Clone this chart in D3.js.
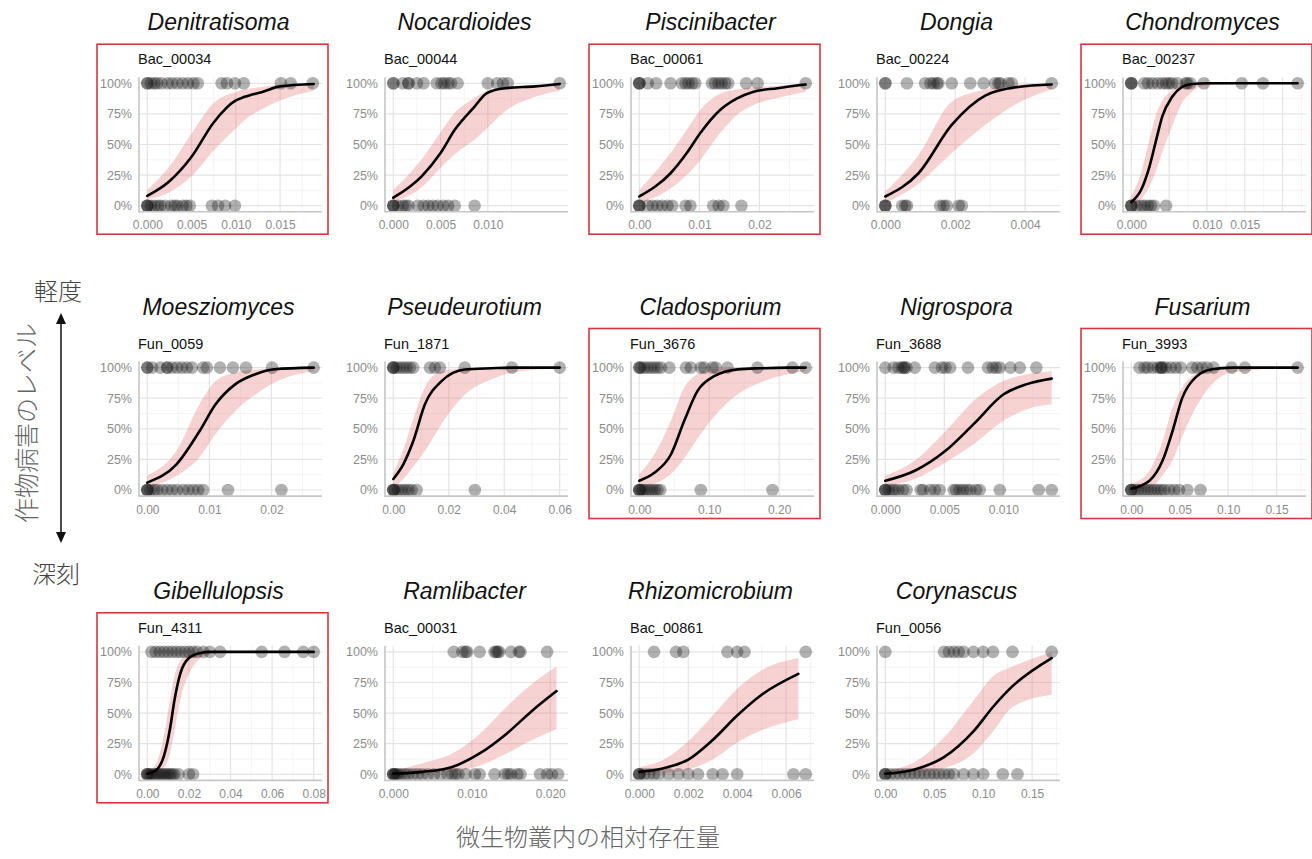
<!DOCTYPE html>
<html>
<head>
<meta charset="utf-8">
<script src="https://cdn.jsdelivr.net/npm/d3@7"></script>
<style>
  body { margin: 0; background: #fff; }
  svg { display: block; }
</style>
</head>
<body>
<svg id="chart" width="1312" height="859"></svg>
<script>
// ---- panel identity ----
const genera = ["Denitratisoma", "Nocardioides", "Piscinibacter", "Dongia", "Chondromyces",
  "Moesziomyces", "Pseudeurotium", "Cladosporium", "Nigrospora", "Fusarium",
  "Gibellulopsis", "Ramlibacter", "Rhizomicrobium", "Corynascus"];
const otuIds = ["Bac_00034", "Bac_00044", "Bac_00061", "Bac_00224", "Bac_00237",
  "Fun_0059", "Fun_1871", "Fun_3676", "Fun_3688", "Fun_3993",
  "Fun_4311", "Bac_00031", "Bac_00861", "Fun_0056"];
const highlighted = [true, false, true, false, true,
  false, false, true, false, true,
  true, false, false, false];

// ---- x axes: largest observed abundance, break values and their labels ----
const xMax = [0.0188, 0.0176, 0.0277, 0.00476, 0.022,
  0.0268, 0.060, 0.238, 0.0141, 0.1718,
  0.080, 0.0212, 0.0068, 0.170];
const xTicks = [
  [0, 0.005, 0.010, 0.015], [0, 0.005, 0.010], [0, 0.01, 0.02], [0, 0.002, 0.004], [0, 0.005, 0.010, 0.015, 0.020],
  [0, 0.01, 0.02], [0, 0.02, 0.04, 0.06], [0, 0.10, 0.20], [0, 0.005, 0.010], [0, 0.05, 0.10, 0.15],
  [0, 0.02, 0.04, 0.06, 0.08], [0, 0.010, 0.020], [0, 0.002, 0.004, 0.006], [0, 0.05, 0.10, 0.15]
];
const xTickText = [
  ["0.000", "0.005", "0.010", "0.015"], ["0.000", "0.005", "0.010"], ["0.00", "0.01", "0.02"], ["0.000", "0.002", "0.004"], ["0.000", "", "0.010", "0.015", ""],
  ["0.00", "0.01", "0.02"], ["0.00", "0.02", "0.04", "0.06"], ["0.00", "0.10", "0.20"], ["0.000", "0.005", "0.010"], ["0.00", "0.05", "0.10", "0.15"],
  ["0.00", "0.02", "0.04", "0.06", "0.08"], ["0.000", "0.010", "0.020"], ["0.000", "0.002", "0.004", "0.006"], ["0.00", "0.05", "0.10", "0.15"]
];
const yTicks = [0, 25, 50, 75, 100];
const yTickText = ["0%", "25%", "50%", "75%", "100%"];

// ---- samples: abundance of the taxon in plots scored mild (100%) / severe (0%) ----
const mildX = [
  [0, 0, 0.0004, 0.0008, 0.0011, 0.0016, 0.0023, 0.0028, 0.0034, 0.004, 0.0046, 0.0052, 0.0057, 0.0084, 0.009, 0.0099, 0.0109, 0.0151, 0.0162, 0.0187],
  [0, 0, 0.001, 0.0016, 0.0016, 0.0025, 0.0032, 0.0046, 0.0051, 0.0054, 0.0058, 0.0061, 0.0068, 0.0100, 0.0110, 0.0116, 0.0121, 0.0176],
  [0, 0, 0, 0.0014, 0.0028, 0.0052, 0.0071, 0.0077, 0.0082, 0.0088, 0.0093, 0.0121, 0.0126, 0.0132, 0.0137, 0.0143, 0.0148, 0.0178, 0.0197, 0.0277],
  [0, 0, 0.00062, 0.00114, 0.00129, 0.00138, 0.00148, 0.00152, 0.0019, 0.00243, 0.00281, 0.00314, 0.00324, 0.00329, 0.00352, 0.00362, 0.00476],
  [0, 0, 0, 0.0017, 0.0022, 0.0028, 0.0035, 0.0041, 0.0046, 0.005, 0.0054, 0.0061, 0.0072, 0.0074, 0.0078, 0.0096, 0.0146, 0.0174, 0.022],
  [0, 0, 0.0008, 0.0021, 0.0032, 0.0032, 0.004, 0.0048, 0.0056, 0.0064, 0.0072, 0.009, 0.0096, 0.0117, 0.0138, 0.0159, 0.0201, 0.0268],
  [0, 0, 0, 0.0012, 0.0024, 0.0036, 0.0048, 0.006, 0.0072, 0.0132, 0.015, 0.0168, 0.0258, 0.0428, 0.060],
  [0, 0, 0.0024, 0.0071, 0.0119, 0.0167, 0.0214, 0.0262, 0.031, 0.0429, 0.0667, 0.0738, 0.088, 0.0929, 0.1048, 0.1095, 0.1262, 0.169, 0.219, 0.238],
  [0, 0.0007, 0.0011, 0.0014, 0.0016, 0.0016, 0.0018, 0.0025, 0.0042, 0.0048, 0.0051, 0.0055, 0.007, 0.0087, 0.0091, 0.0094, 0.0097, 0.0106, 0.0114, 0.0128],
  [0.0085, 0.0136, 0.017, 0.0221, 0.0272, 0.0306, 0.0306, 0.0323, 0.0357, 0.0408, 0.0459, 0.051, 0.0629, 0.068, 0.0731, 0.0782, 0.085, 0.1037, 0.1173, 0.1718],
  [0.002, 0.004, 0.006, 0.008, 0.010, 0.012, 0.014, 0.016, 0.018, 0.020, 0.022, 0.024, 0.027, 0.030, 0.035, 0.055, 0.066, 0.075, 0.080],
  [0.0077, 0.0088, 0.0092, 0.0094, 0.011, 0.0129, 0.0131, 0.0133, 0.0135, 0.015, 0.016, 0.0162, 0.0196],
  [0.0006, 0.0015, 0.0018, 0.0036, 0.004, 0.0043, 0.0068],
  [0, 0.06, 0.065, 0.07, 0.075, 0.08, 0.09, 0.10, 0.11, 0.13, 0.17]
];
const severeX = [
  [0, 0, 0, 0.0004, 0.0008, 0.0012, 0.0015, 0.002, 0.0027, 0.0031, 0.0034, 0.004, 0.0044, 0.0048, 0.0073, 0.008, 0.0088, 0.0099],
  [0, 0, 0, 0.0005, 0.001, 0.0013, 0.0016, 0.0026, 0.0032, 0.0037, 0.0042, 0.0047, 0.0053, 0.0058, 0.0065, 0.0086],
  [0, 0, 0, 0.0014, 0.0022, 0.003, 0.0038, 0.0047, 0.0055, 0.0077, 0.0085, 0.0123, 0.0132, 0.014, 0.017],
  [0, 0, 0, 0.00048, 0.00057, 0.00062, 0.00157, 0.00167, 0.00176, 0.0021, 0.00219],
  [0, 0, 0, 0.0007, 0.0013, 0.0017, 0.0022, 0.0026, 0.003, 0.0046],
  [0, 0, 0, 0.0005, 0.0011, 0.0016, 0.0024, 0.0032, 0.004, 0.0048, 0.0058, 0.0066, 0.0074, 0.0082, 0.009, 0.013, 0.0216],
  [0, 0, 0, 0.0006, 0.0018, 0.003, 0.0042, 0.0054, 0.0066, 0.0084, 0.0294],
  [0, 0, 0, 0.003, 0.006, 0.010, 0.014, 0.018, 0.022, 0.026, 0.030, 0.088, 0.1905],
  [0, 0, 0, 0.0003, 0.0006, 0.0008, 0.0011, 0.0015, 0.0018, 0.003, 0.0032, 0.0038, 0.0042, 0.0046, 0.0058, 0.006, 0.0063, 0.0066, 0.0069, 0.0072, 0.0077, 0.008, 0.0097, 0.013, 0.0141],
  [0, 0, 0, 0.0034, 0.0068, 0.0102, 0.0136, 0.017, 0.0204, 0.0238, 0.0272, 0.0306, 0.034, 0.0391, 0.0442, 0.0493, 0.0578, 0.0714],
  [0, 0, 0, 0.001, 0.002, 0.003, 0.004, 0.005, 0.006, 0.007, 0.008, 0.009, 0.010, 0.011, 0.012, 0.013, 0.015, 0.020, 0.022],
  [0, 0, 0, 0.0002, 0.0004, 0.0006, 0.001, 0.0015, 0.0019, 0.0025, 0.0031, 0.0037, 0.0044, 0.0052, 0.006, 0.0069, 0.0075, 0.0079, 0.0083, 0.0092, 0.0104, 0.011, 0.0129, 0.0142, 0.0146, 0.015, 0.0158, 0.0162, 0.0187, 0.0196, 0.0202, 0.021],
  [0, 0, 0, 0.0002, 0.0004, 0.0006, 0.0008, 0.0012, 0.0016, 0.002, 0.0024, 0.003, 0.0034, 0.004, 0.0063, 0.0068],
  [0, 0, 0, 0.005, 0.01, 0.015, 0.02, 0.025, 0.03, 0.035, 0.04, 0.045, 0.05, 0.055, 0.06, 0.065, 0.07, 0.08, 0.09, 0.10, 0.12, 0.135]
];

// ---- fitted logistic response (%) with its confidence band ----
const fitX = [
  [0, 0.0025, 0.005, 0.0075, 0.010, 0.011, 0.013, 0.015, 0.0188],
  [0, 0.003, 0.005, 0.0065, 0.0086, 0.0099, 0.0118, 0.0150, 0.0176],
  [0, 0.0052, 0.0079, 0.0101, 0.0134, 0.0162, 0.0189, 0.0230, 0.0277],
  [0, 0.00095, 0.0019, 0.00286, 0.0038, 0.00476],
  [0, 0.0013, 0.0024, 0.0033, 0.0041, 0.0054, 0.0067, 0.008, 0.010, 0.022],
  [0, 0.0047, 0.0084, 0.011, 0.0142, 0.0174, 0.0205, 0.0268],
  [0, 0.0036, 0.0072, 0.0114, 0.0174, 0.0258, 0.0354, 0.0428, 0.060],
  [0, 0.0214, 0.0452, 0.0643, 0.0833, 0.1071, 0.1405, 0.174, 0.212, 0.238],
  [0, 0.0025, 0.0051, 0.0075, 0.010, 0.012, 0.0141],
  [0, 0.0187, 0.0323, 0.0425, 0.0527, 0.0663, 0.0833, 0.1037, 0.1718],
  [0, 0.004, 0.008, 0.011, 0.013, 0.016, 0.020, 0.025, 0.030, 0.040, 0.080],
  [0, 0.0037, 0.0075, 0.011, 0.0144, 0.0177, 0.0208],
  [0, 0.001, 0.002, 0.003, 0.004, 0.005, 0.0065],
  [0, 0.03, 0.06, 0.09, 0.11, 0.13, 0.17]
];
const fitPct = [
  [8, 20, 40, 68, 86, 89, 93, 97.5, 99.5],
  [6.5, 24, 43, 62, 81, 92, 96, 97.5, 99.5],
  [7.5, 26.5, 43, 59, 78, 87.5, 93, 96, 99],
  [7.5, 26.5, 66, 90, 97, 99],
  [3, 13, 32, 54, 73, 89, 97, 99.5, 100, 100],
  [6, 21, 48, 70, 86.5, 94.6, 98.7, 100],
  [9, 21, 40, 70, 89, 98.5, 99.5, 100, 100],
  [7.5, 14, 29, 56.5, 81, 93, 98.6, 99.5, 100, 100],
  [7.5, 15.7, 32, 54, 78, 86.5, 91],
  [1, 7.5, 24, 48, 75.5, 92, 98.6, 100, 100],
  [0.5, 3, 15, 38, 60, 83, 95, 99, 100, 100, 100],
  [0.5, 2, 6, 17, 33, 52, 68],
  [2, 5, 12, 28, 48, 65, 82],
  [0.5, 4, 14, 35, 55, 72, 95]
];
const fitLow = [
  [5, 11, 24, 45, 63, 70, 79, 86, 94],
  [3, 15, 31, 42, 54, 63, 77, 89, 94],
  [2, 14, 25, 37, 59, 74, 82, 88, 93],
  [2, 18, 43, 66, 84, 95],
  [0.5, 5, 16, 29, 44, 65, 84, 93, 98.5, 100],
  [2, 11.7, 26.6, 45.7, 64.7, 78, 87.8, 97],
  [2, 9, 19, 32, 54, 78, 90.5, 96, 99.5],
  [2, 5, 13, 26, 42, 60, 78, 88, 94.6, 97],
  [3.5, 9, 22.5, 37.5, 56.5, 66, 70],
  [0, 1.5, 12, 24, 44, 67, 86.5, 96, 100],
  [0, 1, 5, 18, 35, 62, 82, 94, 98, 100, 100],
  [0, 0.5, 2, 7, 17, 28, 37],
  [0, 1, 4, 12, 26, 36, 45],
  [0, 1, 5, 17, 35, 55, 65]
];
const fitHigh = [
  [13, 32, 59, 84, 93, 95, 97, 99, 100],
  [13, 38, 60, 76, 88, 94, 97, 98.5, 100],
  [13, 43, 62, 78, 91.5, 95, 96.5, 98, 100],
  [11.5, 41.5, 85, 95, 99, 100],
  [8, 27, 54, 75, 86, 94, 99, 100, 100, 100],
  [11.7, 32, 70, 89, 96, 98.5, 99.5, 100],
  [14, 33, 58, 84, 97, 99.5, 100, 100, 100],
  [13, 29, 56.5, 83.7, 94.6, 98.6, 100, 100, 100, 100],
  [11.6, 24, 48, 73, 89, 94.6, 97],
  [5, 15.7, 40, 67, 84, 95, 99.5, 100, 100],
  [2, 8, 32, 62, 80, 93, 98, 100, 100, 100, 100],
  [3, 9, 17, 33, 55, 74, 88],
  [6, 12, 27, 48, 70, 85, 95],
  [3, 10, 30, 60, 80, 88, 100]
];

// ---- layout ----
const svg = d3.select("#chart");
const LEFT0 = 139, COL_STEP = 246, TOP0 = 77.2, ROW_STEP = 284.3;
const PW = 183, PH = 134.6;
const latin = "'Liberation Sans', Arial, Helvetica, sans-serif";
const cjk = "'Noto Sans CJK JP', 'Noto Sans', sans-serif";

genera.forEach((genus, i) => {
  const col = i % 5, row = Math.floor(i / 5);
  const left = LEFT0 + col * COL_STEP, top = TOP0 + row * ROW_STEP;
  const right = left + PW, bottom = top + PH;
  const pad = xMax[i] * 0.05;
  const x = d3.scaleLinear().domain([-pad, xMax[i] + pad]).range([left, right]);
  const y = d3.scaleLinear().domain([-5, 105]).range([bottom, top]);
  const g = svg.append("g").attr("class", "panel");

  // highlight frame
  if (highlighted[i]) {
    g.append("rect")
      .attr("x", left - 42).attr("y", top - 33)
      .attr("width", PW + 48).attr("height", 190)
      .attr("fill", "none").attr("stroke", "#d3383f").attr("stroke-width", 1.6);
  }

  // grid: minor then major
  const majors = xTicks[i];
  const step = majors[1] - majors[0];
  const minorsX = [];
  for (let k = -1; k < majors.length; k++) {
    const v = majors[0] + (k + 0.5) * step;
    if (v >= -pad && v <= xMax[i] + pad) minorsX.push(v);
  }
  const minorsY = [12.5, 37.5, 62.5, 87.5];
  const grid = g.append("g");
  grid.selectAll("line.vmin").data(minorsX).join("line")
    .attr("x1", d => x(d)).attr("x2", d => x(d)).attr("y1", top).attr("y2", bottom)
    .attr("stroke", "#f1f1f1").attr("stroke-width", 0.8);
  grid.selectAll("line.hmin").data(minorsY).join("line")
    .attr("x1", left).attr("x2", right).attr("y1", d => y(d)).attr("y2", d => y(d))
    .attr("stroke", "#f1f1f1").attr("stroke-width", 0.8);
  grid.selectAll("line.vmaj").data(majors.filter(v => v <= xMax[i] + pad)).join("line")
    .attr("x1", d => x(d)).attr("x2", d => x(d)).attr("y1", top).attr("y2", bottom)
    .attr("stroke", "#e4e4e4").attr("stroke-width", 1.2);
  grid.selectAll("line.hmaj").data(yTicks).join("line")
    .attr("x1", left).attr("x2", right).attr("y1", d => y(d)).attr("y2", d => y(d))
    .attr("stroke", "#e4e4e4").attr("stroke-width", 1.2);

  // confidence band
  const band = fitX[i].map((v, k) => ({ x: v, lo: fitLow[i][k], hi: fitHigh[i][k], fit: fitPct[i][k] }));
  g.append("path").datum(band)
    .attr("d", d3.area().x(d => x(d.x)).y0(d => y(d.lo)).y1(d => y(d.hi)).curve(d3.curveMonotoneX))
    .attr("fill", "#e57373").attr("fill-opacity", 0.32);

  // observations
  const obs = mildX[i].map(v => ({ x: v, p: 100 })).concat(severeX[i].map(v => ({ x: v, p: 0 })));
  g.append("g").selectAll("circle").data(obs).join("circle")
    .attr("cx", d => x(d.x)).attr("cy", d => y(d.p)).attr("r", 6.3)
    .attr("fill", "#111").attr("fill-opacity", 0.33);

  // fitted curve
  g.append("path").datum(band)
    .attr("d", d3.line().x(d => x(d.x)).y(d => y(d.fit)).curve(d3.curveMonotoneX))
    .attr("fill", "none").attr("stroke", "#000").attr("stroke-width", 2.6)
    .attr("stroke-linejoin", "round").attr("stroke-linecap", "round");

  // axis lines
  g.append("line").attr("x1", left).attr("x2", left).attr("y1", top).attr("y2", bottom + 0.8)
    .attr("stroke", "#c6c6c6").attr("stroke-width", 1.6);
  g.append("line").attr("x1", left).attr("x2", right).attr("y1", bottom).attr("y2", bottom)
    .attr("stroke", "#c6c6c6").attr("stroke-width", 1.6);

  // tick labels
  const yAxis = g.append("g").attr("transform", `translate(${left},0)`)
    .call(d3.axisLeft(y).tickValues(yTicks).tickSize(0).tickPadding(7)
      .tickFormat((d, k) => yTickText[k]));
  const xAxis = g.append("g").attr("transform", `translate(0,${bottom})`)
    .call(d3.axisBottom(x).tickValues(majors.filter(v => v <= xMax[i] + pad)).tickSize(0).tickPadding(9)
      .tickFormat((d, k) => xTickText[i][k]));
  yAxis.select(".domain").remove();
  xAxis.select(".domain").remove();
  yAxis.selectAll("text").attr("fill", "#8c8c8c").style("font-family", latin).style("font-size", "12.5px");
  xAxis.selectAll("text").attr("fill", "#8c8c8c").style("font-family", latin).style("font-size", "12px");

  // labels
  g.append("text").attr("x", left - 1).attr("y", top - 13)
    .style("font-family", latin).style("font-size", "14.5px").attr("fill", "#111")
    .text(otuIds[i]);
  g.append("text").attr("x", left + PW / 2 - 12).attr("y", top - 47)
    .attr("text-anchor", "middle")
    .style("font-family", latin).style("font-size", "23px").style("font-style", "italic")
    .attr("fill", "#111").text(genus);
});

// ---- shared axis titles ----
const ax = 61, yTop = 313, yBot = 543;
svg.append("line").attr("x1", ax).attr("x2", ax).attr("y1", yTop + 8).attr("y2", yBot - 8)
  .attr("stroke", "#111").attr("stroke-width", 1.5);
svg.append("path").attr("d", `M${ax},${yTop} L${ax - 5},${yTop + 11} L${ax + 5},${yTop + 11} Z`).attr("fill", "#111");
svg.append("path").attr("d", `M${ax},${yBot} L${ax - 5},${yBot - 11} L${ax + 5},${yBot - 11} Z`).attr("fill", "#111");

svg.append("text").attr("x", 58).attr("y", 289).attr("text-anchor", "middle").attr("dominant-baseline", "central")
  .style("font-family", cjk).style("font-size", "24px").style("font-weight", 300).attr("fill", "#444").text("軽度");
svg.append("text").attr("x", 56).attr("y", 572).attr("text-anchor", "middle").attr("dominant-baseline", "central")
  .style("font-family", cjk).style("font-size", "24px").style("font-weight", 300).attr("fill", "#444").text("深刻");
svg.append("text").attr("transform", "translate(25,423) rotate(-90)")
  .attr("text-anchor", "middle").attr("dominant-baseline", "central")
  .style("font-family", cjk).style("font-size", "25px").style("font-weight", 300).attr("fill", "#666")
  .text("作物病害のレベル");
svg.append("text").attr("x", 588).attr("y", 846).attr("text-anchor", "middle")
  .style("font-family", cjk).style("font-size", "24px").style("font-weight", 300).attr("fill", "#666")
  .text("微生物叢内の相対存在量");
</script>
</body>
</html>
